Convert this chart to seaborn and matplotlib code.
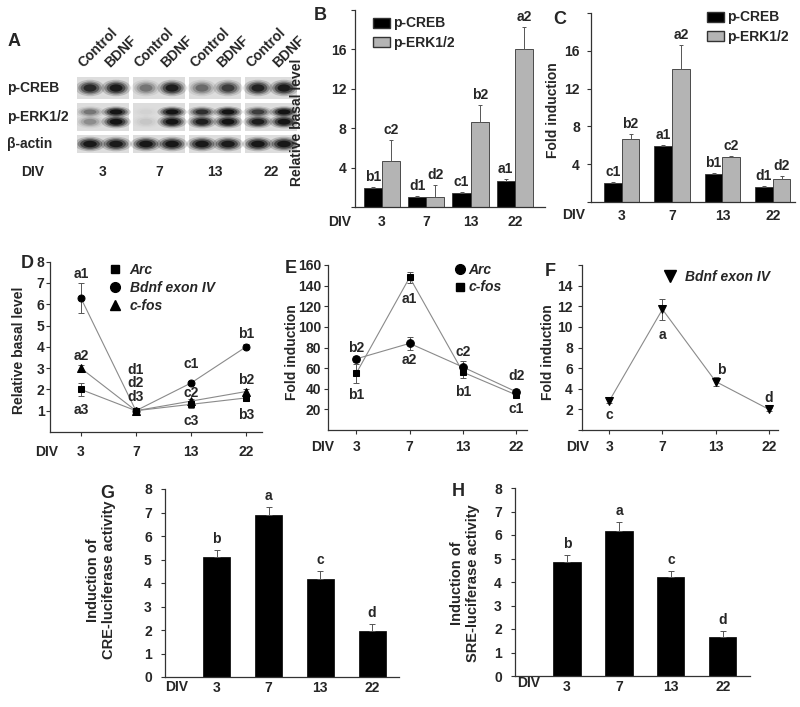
import matplotlib
matplotlib.use("Agg")
import numpy as np
import pandas as pd
import matplotlib.pyplot as plt
import seaborn as sns
from matplotlib.patches import Ellipse, Rectangle, Patch
from matplotlib.lines import Line2D

# ---------------- data ----------------
DIV = ["3", "7", "13", "22"]
lane_labels = ["Control", "BDNF"]
blot_rows = ["p-CREB", "p-ERK1/2", "β-actin"]
band_creb = [0.80, 0.92, 0.35, 0.90, 0.40, 0.65, 0.85, 0.92]
band_erk_upper = [0.35, 1.0, 0.03, 1.0, 0.75, 1.0, 0.65, 1.0]
band_erk_lower = [0.25, 1.0, 0.06, 1.0, 0.90, 1.0, 0.90, 1.0]
band_actin = [0.95, 0.92, 0.97, 0.97, 0.95, 0.92, 0.97, 0.95]

series_bc = ["p-CREB", "p-ERK1/2"]
b_creb = [1.9, 1.0, 1.45, 2.65]
b_creb_err = [0.1, 0.15, 0.1, 0.15]
b_erk = [4.7, 1.0, 8.6, 16.0]
b_erk_err = [2.1, 1.2, 1.8, 2.3]
b_lab_creb = ["b1", "d1", "c1", "a1"]
b_lab_erk = ["c2", "d2", "b2", "a2"]

c_creb = [2.0, 5.9, 2.95, 1.6]
c_creb_err = [0.1, 0.15, 0.15, 0.1]
c_erk = [6.65, 14.1, 4.75, 2.4]
c_erk_err = [0.55, 2.5, 0.15, 0.35]
c_lab_creb = ["c1", "a1", "b1", "d1"]
c_lab_erk = ["b2", "a2", "c2", "d2"]

d_genes = ["Arc", "Bdnf exon IV", "c-fos"]
d_arc = [2.0, 1.0, 1.3, 1.6]
d_arc_err = [0.3, 0.06, 0.15, 0.15]
d_bdnf = [6.3, 1.0, 2.3, 4.0]
d_bdnf_err = [0.7, 0.06, 0.1, 0.12]
d_cfos = [3.0, 1.0, 1.45, 1.9]
d_cfos_err = [0.15, 0.06, 0.1, 0.1]
d_lab_arc = ["a3", "d3", "c3", "b3"]
d_lab_bdnf = ["a1", "d1", "c1", "b1"]
d_lab_cfos = ["a2", "d2", "c2", "b2"]

e_genes = ["Arc", "c-fos"]
e_arc = [69, 84, 61, 37]
e_arc_err = [3, 6, 6, 3]
e_cfos = [55, 148, 56, 34]
e_cfos_err = [9, 5, 6, 2]
e_lab_arc = ["b2", "a2", "c2", "d2"]
e_lab_cfos = ["b1", "a1", "b1", "c1"]

f_gene = "Bdnf exon IV"
f_bdnf = [2.8, 11.7, 4.7, 2.0]
f_bdnf_err = [0.2, 1.0, 0.45, 0.15]
f_lab = ["c", "a", "b", "d"]

g_cre = [5.1, 6.9, 4.15, 1.95]
g_cre_err = [0.3, 0.35, 0.35, 0.3]
g_lab = ["b", "a", "c", "d"]
h_sre = [4.85, 6.15, 4.2, 1.65]
h_sre_err = [0.3, 0.4, 0.25, 0.25]
h_lab = ["b", "a", "c", "d"]

# ---------------- setup ----------------
sns.set_theme(style="ticks")
plt.rcParams["font.family"] = ["Liberation Sans", "DejaVu Sans"]
plt.rcParams["font.weight"] = "bold"
plt.rcParams["axes.labelweight"] = "bold"

W, H = 800, 707
fig = plt.figure(figsize=(8, 7.07), dpi=100)
FS = 10
GRAY = "#b4b4b4"


def add_ax(x0, y0, x1, y1):
    return fig.add_axes([x0 / W, 1 - y1 / H, (x1 - x0) / W, (y1 - y0) / H])


def ftext(x, y, s, **kw):
    kw.setdefault("fontsize", FS)
    kw.setdefault("fontweight", "bold")
    kw.setdefault("ha", "center")
    kw.setdefault("va", "center")
    fig.text(x / W, 1 - y / H, s, **kw)


def lab(ax, x, y, s, dy_px, dx_px=0):
    ax.annotate(s, xy=(x, y), xytext=(dx_px * 0.72, dy_px * 0.72),
                textcoords="offset points", ha="center", va="center",
                fontsize=FS, fontweight="bold")


def style(ax, yt, ylab=None, xlen=0, xpad=5, ypad=3):
    sns.despine(ax=ax)
    for sp in ["left", "bottom"]:
        ax.spines[sp].set_color("#333333")
        ax.spines[sp].set_linewidth(0.9)
    ax.set_yticks(yt)
    if ylab is not None:
        ax.set_yticklabels(ylab)
    ax.tick_params(axis="y", length=3, width=0.8, labelsize=FS, pad=ypad, color="#333333")
    ax.tick_params(axis="x", length=xlen, width=0.8, labelsize=FS, pad=xpad, color="#333333")
    ax.set_xlabel("")
    ax.set_ylabel("")
    for t in ax.get_xticklabels() + ax.get_yticklabels():
        t.set_fontweight("bold")


# ---------------- Panel A (blot) ----------------
rows_px = [(77, 99), (103, 131), (135, 153)]
gap = 2.15
lane_x = [g * gap + j for g in range(4) for j in range(2)]
row_axes = []
for (y0, y1) in rows_px:
    ax = add_ax(77, y0, 297, y1)
    ax.set_xlim(-0.5, 3 * gap + 1.5)
    ax.set_ylim(0, 1)
    ax.axis("off")
    for g in range(4):
        ax.add_patch(Rectangle((g * gap - 0.5, 0), 2, 1, color="#dddddd", lw=0))
    row_axes.append(ax)


def band(ax, x, y, w, h, inten):
    for s, a in [(1.25, 0.18), (1.0, 0.3), (0.8, 0.45), (0.55, 0.7)]:
        ax.add_patch(Ellipse((x, y), w * s, h * s, color="black", alpha=a * inten, lw=0))


for x, v in zip(lane_x, band_creb):
    band(row_axes[0], x, 0.5, 0.9, 0.6, v)
for x, vu, vl in zip(lane_x, band_erk_upper, band_erk_lower):
    band(row_axes[1], x, 0.68, 0.9, 0.32, vu)
    band(row_axes[1], x, 0.33, 0.9, 0.38, vl)
for x, v in zip(lane_x, band_actin):
    band(row_axes[2], x, 0.5, 0.95, 0.65, v)

for i, x in enumerate(lane_x):
    row_axes[0].annotate(lane_labels[i % 2], xy=(x, 1), xytext=(-3, 5),
                         textcoords="offset points", rotation=45,
                         rotation_mode="anchor", ha="left", va="bottom",
                         fontsize=FS, fontweight="bold")
for g in range(4):
    row_axes[2].annotate(DIV[g], xy=(g * gap + 0.5, 0), xytext=(0, -19 * 0.72),
                         textcoords="offset points", ha="center", va="center",
                         fontsize=FS, fontweight="bold")
for (y0, y1), name in zip(rows_px, blot_rows):
    ftext(7, (y0 + y1) / 2, name, ha="left")
ftext(33, 172, "DIV")
ftext(14, 42, "A", fontsize=13)


# ---------------- Panels B and C ----------------
def bar_pair(ax, v1, e1, v2, e2, l1, l2, width):
    df = pd.DataFrame({"DIV": DIV * 2, "val": v1 + v2,
                       "prot": [series_bc[0]] * 4 + [series_bc[1]] * 4})
    sns.barplot(data=df, x="DIV", y="val", hue="prot", order=DIV,
                hue_order=series_bc, palette=["black", GRAY], width=width,
                errorbar=None, edgecolor="#333333", linewidth=0.6,
                legend=False, ax=ax, saturation=1)
    for cont, vals, errs, labs in zip(ax.containers, [v1, v2], [e1, e2], [l1, l2]):
        for bar, v, e, s in zip(cont, vals, errs, labs):
            xc = bar.get_x() + bar.get_width() / 2
            ax.errorbar(xc, v, yerr=[[0], [e]], fmt="none", ecolor="#555555",
                        elinewidth=0.7, capsize=1.5, capthick=0.7)
            lab(ax, xc, v + e, s, 10)


def bar_legend(ax, x_px, top_px):
    handles = [Patch(facecolor="black", edgecolor="#333333"),
               Patch(facecolor=GRAY, edgecolor="#333333")]
    ax.legend(handles, series_bc, loc="upper left",
              bbox_to_anchor=(x_px / W, 1 - top_px / H), bbox_transform=fig.transFigure,
              frameon=False, borderpad=0, borderaxespad=0, handlelength=1.2,
              handleheight=0.75, handletextpad=0.25, labelspacing=0.36,
              prop={"weight": "bold", "size": FS})


axB = add_ax(355, 10, 545, 207)
bar_pair(axB, b_creb, b_creb_err, b_erk, b_erk_err, b_lab_creb, b_lab_erk, 0.82)
axB.set_xlim(-0.61, 3.68)
axB.set_ylim(0, 20)
style(axB, [0, 4, 8, 12, 16, 20], ["", "4", "8", "12", "16", ""], xlen=0, xpad=5.5)
bar_legend(axB, 373, 16.5)
ftext(297, 122, "Relative basal level", rotation=90)
ftext(340, 221.7, "DIV")
ftext(320, 15, "B", fontsize=13)

axC = add_ax(591, 13, 795, 202)
bar_pair(axC, c_creb, c_creb_err, c_erk, c_erk_err, c_lab_creb, c_lab_erk, 0.7)
axC.set_xlim(-0.61, 3.44)
axC.set_ylim(0, 20)
style(axC, [0, 4, 8, 12, 16, 20], ["", "4", "8", "12", "16", ""], xlen=0, xpad=5, ypad=5)
bar_legend(axC, 707, 10.5)
ftext(553, 110, "Fold induction", rotation=90)
ftext(574, 215, "DIV")
ftext(560, 20, "C", fontsize=13)


# ---------------- line panels ----------------
def line_series(ax, vals, errs, marker, ms):
    x = np.arange(4)
    ax.errorbar(x, vals, yerr=errs, fmt="none", ecolor="#555555",
                elinewidth=0.7, capsize=2, capthick=0.7, zorder=2)
    sns.lineplot(x=x, y=vals, ax=ax, color="#8a8a8a", lw=0.8, marker=marker,
                 markersize=ms, markerfacecolor="black", markeredgecolor="black",
                 zorder=3)


def marker_legend(ax, labels, markers, sizes, x_px, top_px, hl, htp, ls):
    handles = [Line2D([], [], ls="none", marker=m, ms=s, color="black") for m, s in zip(markers, sizes)]
    ax.legend(handles, labels, loc="upper left",
              bbox_to_anchor=(x_px / W, 1 - top_px / H), bbox_transform=fig.transFigure,
              frameon=False, borderpad=0, borderaxespad=0, handlelength=hl,
              handletextpad=htp, labelspacing=ls,
              prop={"weight": "bold", "size": FS, "style": "italic"})


# Panel D
axD = add_ax(50, 261.7, 262, 432)
line_series(axD, d_bdnf, d_bdnf_err, "o", 5)
line_series(axD, d_cfos, d_cfos_err, "^", 5.5)
line_series(axD, d_arc, d_arc_err, "s", 4.3)
axD.set_xlim(-0.56, 3.29)
axD.set_ylim(0, 8)
axD.set_xticks(range(4))
axD.set_xticklabels(DIV)
style(axD, [1, 2, 3, 4, 5, 6, 7, 8], xlen=3, xpad=6.5, ypad=1)
d_off_bdnf = [24, 41, 19, 13]
d_off_cfos = [12.6, 27.5, 8, 12]
d_off_arc = [-21, 14, -17, -17]
for vals, labs, offs in [(d_bdnf, d_lab_bdnf, d_off_bdnf), (d_cfos, d_lab_cfos, d_off_cfos),
                         (d_arc, d_lab_arc, d_off_arc)]:
    for i in range(4):
        lab(axD, i, vals[i], labs[i], offs[i])
marker_legend(axD, d_genes, ["s", "o", "^"], [6, 7, 7], 108, 262.5, 1.0, 0.55, 0.3)
ftext(19, 350, "Relative basal level", rotation=90)
ftext(47, 451.7, "DIV")
ftext(27, 263, "D", fontsize=13)

# Panel E
axE = add_ax(328, 265, 527, 430)
line_series(axE, e_cfos, e_cfos_err, "s", 4)
line_series(axE, e_arc, e_arc_err, "o", 5.5)
axE.set_xlim(-0.53, 3.2)
axE.set_ylim(0, 160)
axE.set_xticks(range(4))
axE.set_xticklabels(DIV)
style(axE, [20, 40, 60, 80, 100, 120, 140, 160], xlen=3, xpad=4.5, ypad=2)
e_off_arc = [11, -17, 15.5, 16]
e_off_cfos = [-21.6, -22, -20, -14]
for vals, labs, offs in [(e_arc, e_lab_arc, e_off_arc), (e_cfos, e_lab_cfos, e_off_cfos)]:
    for i in range(4):
        lab(axE, i, vals[i], labs[i], offs[i])
marker_legend(axE, e_genes, ["o", "s"], [7, 6], 456, 263, 0.6, 0.3, 0.25)
ftext(292, 352, "Fold induction", rotation=90)
ftext(322.5, 446.7, "DIV")
ftext(291, 269, "E", fontsize=13)

# Panel F
axF = add_ax(582, 265, 778, 430)
line_series(axF, f_bdnf, f_bdnf_err, "v", 5.5)
axF.set_xlim(-0.51, 3.17)
axF.set_ylim(0, 16)
axF.set_xticks(range(4))
axF.set_xticklabels(DIV)
style(axF, [0, 2, 4, 6, 8, 10, 12, 14, 16], ["", "2", "4", "6", "8", "10", "12", "14", ""],
      xlen=3, xpad=4.5, ypad=3.5)
f_off = [(-14, 0), (-26, 0), (12, 6), (11, 0)]
for i in range(4):
    lab(axF, i, f_bdnf[i], f_lab[i], f_off[i][0], f_off[i][1])
marker_legend(axF, [f_gene], ["v"], [8], 663, 270, 1.0, 0.55, 0.3)
ftext(548, 352, "Fold induction", rotation=90)
ftext(577.5, 446.7, "DIV")
ftext(550, 272, "F", fontsize=13)


# ---------------- Panels G and H ----------------
def single_bars(ax, vals, errs, labs):
    df = pd.DataFrame({"DIV": DIV, "val": vals})
    sns.barplot(data=df, x="DIV", y="val", order=DIV, color="black", width=0.52,
                errorbar=None, ax=ax, saturation=1, edgecolor="black", linewidth=0.5)
    for bar, v, e, s in zip(ax.containers[0], vals, errs, labs):
        xc = bar.get_x() + bar.get_width() / 2
        ax.errorbar(xc, v, yerr=[[0], [e]], fmt="none", ecolor="#555555",
                    elinewidth=0.7, capsize=2, capthick=0.7)
        lab(ax, xc, v + e, s, 11)
    ax.set_xlim(-1, 3.52)
    ax.set_ylim(0, 8)


axG = add_ax(165, 489, 399, 677)
single_bars(axG, g_cre, g_cre_err, g_lab)
style(axG, range(9), xlen=0, xpad=3, ypad=6.5)
ftext(101, 580, "Induction of\nCRE-luciferase activity", rotation=90,
      multialignment="center", fontsize=10.5, linespacing=1.1)
ftext(176.5, 686.7, "DIV")
ftext(107, 493, "G", fontsize=13)

axH = add_ax(515, 488, 750, 676)
single_bars(axH, h_sre, h_sre_err, h_lab)
style(axH, range(9), xlen=0, xpad=3, ypad=6.5)
ftext(465, 583, "Induction of\nSRE-luciferase activity", rotation=90,
      multialignment="center", fontsize=10.5, linespacing=1.1)
ftext(529, 683, "DIV")
ftext(458, 492, "H", fontsize=13)

fig.savefig("out.png", dpi=100)
